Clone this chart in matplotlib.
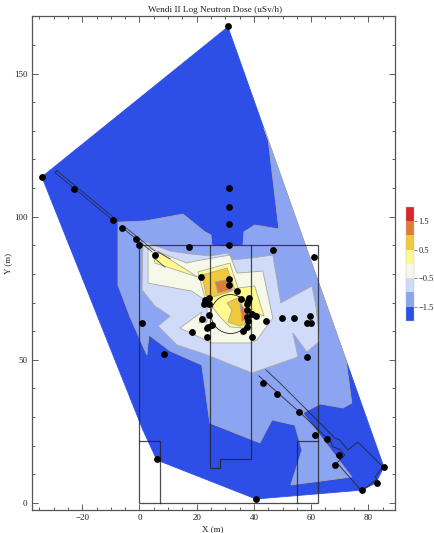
import matplotlib
matplotlib.use("Agg")
import matplotlib.pyplot as plt
from matplotlib.colors import ListedColormap, BoundaryNorm
from matplotlib.cm import ScalarMappable
from matplotlib.patches import Circle
from matplotlib.ticker import MultipleLocator

plt.rcParams['font.family'] = ['Liberation Serif', 'DejaVu Serif']

title = "Wendi II Log Neutron Dose (uSv/h)"
levels = [-2, -1.5, -1, -0.5, 0, 0.5, 1, 1.5, 2]
level_colors = ["#2D4FE8", "#8CA5F2", "#D0DBFA", "#F7F9E8", "#FFF98F", "#F0C93C", "#E07D35", "#D8262B"]
cbar_ticks = [-1.5, -0.5, 0.5, 1.5]
cbar_labels = ["\u22121.5", "\u22120.5", "0.5", "1.5"]

band0 = [(30.9,166.3),(-34.1,113.9),(1.2,25.5),(6.1,15.0),(40.7,1.4),(77.7,4.5),(82.6,7.0),(85.4,12.6)]
band1 = [(-7.5,98.1),(1.9,98.5),(15.2,100.9),(22.9,94.7),(25.0,93.6),(25.3,90.1),(31.3,89.4),(36.2,90.1),
         (36.5,94.7),(40.3,97.1),(48.7,95.7),(45.0,126.8),(43.5,131.0),(72.2,49.9),(74.2,34.9),(71.1,33.2),
         (63.1,34.6),(57.1,31.4),(74.2,9.1),(52.9,6.3),(56.8,18.5),(54.3,27.2),(46.3,29.0),(42.1,21.0),
         (24.6,27.9),(21.8,48.2),(10.7,53.1),(3.3,58.7),(2.6,51.7),(-3.3,65.0),(-7.5,76.1)]
band2 = [(1.2,91.5),(10.7,88.0),(17.6,87.0),(24.6,86.3),(30.9,87.3),(32.3,84.9),(39.3,85.6),(46.6,86.6),
         (49.4,69.9),(60.3,75.8),(61.7,68.5),(63.1,56.6),(58.5,52.7),(53.6,59.4),(55.4,51.0),(44.5,47.2),
         (39.3,45.4),(23.6,51.7),(13.1,55.2),(6.5,61.8),(10.7,65.3),(5.4,68.8),(0.9,74.4)]
band3 = [(3.0,89.1),(16.6,83.8),(19.4,84.5),(31.6,86.6),(32.7,83.8),(34.1,80.3),(43.1,81.0),(46.6,64.6),
         (41.0,56.9),(39.0,55.9),(25.3,55.9),(14.1,61.1),(21.8,66.7),(20.8,62.9),(23.6,63.2),(23.6,68.1),
         (25.3,69.9),(22.9,70.9),(18.3,74.0),(3.0,76.8)]
band4a = [(4.7,87.3),(5.4,83.8),(20.4,78.9),(7.2,87.3)]
band4b = [(20.4,80.7),(31.6,83.8),(34.4,75.1),(40.3,75.8),(43.5,65.3),(37.9,67.4),(36.9,61.1),(31.6,61.5),
          (28.1,65.0),(25.3,68.8),(22.9,71.6)]
band5a = [(21.8,79.6),(30.6,82.1),(33.4,74.4),(23.6,71.3)]
band5b = [(30.6,69.9),(35.1,72.0),(37.6,62.9),(35.1,61.8),(30.9,63.2),(32.3,67.4)]
band6a = [(26.4,77.2),(31.3,78.2),(32.0,74.4),(27.4,73.3)]
band6b = [(35.1,69.9),(36.9,67.4),(37.9,63.9),(35.8,63.6)]
bands = [(0, band0), (1, band1), (2, band2), (3, band3), (4, band4a), (4, band4b),
         (5, band5a), (5, band5b), (6, band6a), (6, band6b)]

points_x = [30.9,-34.1,-22.9,-9.3,-6.1,-1.2,-0.2,5.4,17.3,31.3,31.3,31.3,31.3,46.6,61.0,0.9,8.6,6.1,40.7,21.5,
            31.3,31.3,34.1,35.5,24.3,22.9,22.5,24.3,24.3,21.8,18.3,23.6,23.9,25.3,23.6,38.3,37.9,37.6,37.6,39.3,
            40.7,37.6,37.9,44.2,49.8,54.0,59.6,58.5,59.9,37.6,36.2,39.3,58.5,43.1,48.0,55.7,61.3,65.5,69.7,68.3,
            77.7,83.0,85.4]
points_y = [166.6,113.9,109.7,98.8,96.1,92.2,90.1,86.6,89.4,110.0,103.4,97.4,90.1,88.4,85.9,62.9,52.0,15.4,1.4,78.9,
            78.2,76.1,74.0,71.3,71.6,70.9,69.5,69.5,65.7,64.3,59.7,58.0,61.5,62.2,61.1,71.6,70.6,69.5,67.4,66.0,
            65.3,65.0,63.6,63.6,64.6,64.6,65.3,62.9,62.9,61.5,60.1,58.0,51.0,41.9,38.1,31.8,23.8,22.4,16.8,13.3,
            4.5,7.0,12.6]

building_outer = [(0,90),(62.5,90),(62.5,0),(0,0),(0,90)]
building_inner = [(24.5,90),(24.5,12.2),(28,12.2),(28,15.2),(39,15.2),(39,90)]
room_left = [(0,21.5),(7,21.5),(7,0)]
room_right = [(62.5,21.5),(55.2,21.5),(55.2,0)]
tunnel_nw = [[(-29.5,115.4),(-8.6,98.2)], [(-28.9,116.1),(-7.9,98.8)], [(-29.5,115.4),(-28.9,116.1)],
             [(-5.8,96.0),(4.4,87.7)], [(-5.1,96.4),(5.4,88.0)],
             [(6.5,87.7),(10.7,85.3)], [(4.7,85.9),(8.9,82.4)]]
tunnel_se = [(44.2,46.5),(49.1,41.9),(68.3,22.7),(70.0,22.0),(72.8,18.5),(76.3,21.3),(85.1,12.6),(82.3,9.1),
             (83.0,8.4),(77.7,4.2),(69.0,14.0),(71.8,16.8),(69.7,18.9),(67.6,19.6),(66.9,21.3),(57.1,30.7),(41.7,44.4)]
circle_center = (31.8, 66.0)
circle_radius = 6.8

W, H = 435, 533
fig = plt.figure(figsize=(W/100, H/100), dpi=100)
ax = fig.add_axes([31.7/W, 1-510.3/H, (395.3-31.7)/W, (510.3-15.7)/H])
ax.set_xlim(-37.66, 89.4)
ax.set_ylim(-2.55, 170.2)

for idx, poly in bands:
    xs, ys = zip(*poly)
    ax.fill(xs, ys, facecolor=level_colors[idx], edgecolor=level_colors[idx] if idx == 0 else "#a8a8a8",
            linewidth=0.6, zorder=1+idx*0.1)

def line(poly, lw=0.9, color="#222222", alpha=0.8):
    xs, ys = zip(*poly)
    ax.plot(xs, ys, color=color, lw=lw, alpha=alpha, zorder=3, solid_joinstyle="miter")

line(building_outer); line(building_inner); line(room_left); line(room_right)
for seg in tunnel_nw:
    line(seg, lw=0.6)
line(tunnel_se, lw=0.7)
ax.add_patch(Circle(circle_center, circle_radius, fill=False, edgecolor="#222222", lw=0.6, zorder=3))
ax.scatter(points_x, points_y, s=24, color="black", linewidths=0, zorder=4)

ax.xaxis.set_major_locator(MultipleLocator(20))
ax.xaxis.set_minor_locator(MultipleLocator(5))
ax.yaxis.set_major_locator(MultipleLocator(50))
ax.yaxis.set_minor_locator(MultipleLocator(10))
ax.tick_params(which="major", direction="in", length=4, width=0.6, color="#444444", labelsize=6.5,
               top=True, right=True, labelcolor="#222222", pad=3)
ax.tick_params(which="minor", direction="in", length=2, width=0.6, color="#444444", top=True, right=True)
ax.set_xticks([-20, 0, 20, 40, 60, 80])
ax.set_xticklabels(["\u221220", "0", "20", "40", "60", "80"])
for s in ax.spines.values():
    s.set_linewidth(0.9); s.set_color("#555555")

fig.text(215/W, 1-9.5/H, title, ha="center", va="center", fontsize=6.7, color="#222222")
fig.text(213/W, 1-529/H, "X (m)", ha="center", va="center", fontsize=6.5, color="#222222")
fig.text(8/W, 1-263/H, "Y (m)", ha="center", va="center", rotation=90, fontsize=6.5, color="#222222")

cax = fig.add_axes([405.7/W, 1-321/H, 8.6/W, (321-206.7)/H])
sm = ScalarMappable(norm=BoundaryNorm(levels, len(level_colors)), cmap=ListedColormap(level_colors))
cb = fig.colorbar(sm, cax=cax, spacing="proportional", ticks=cbar_ticks, drawedges=False)
cb.ax.set_yticklabels(cbar_labels)
cb.ax.minorticks_off()
cb.ax.tick_params(length=2, width=0.5, labelsize=6, pad=1.2, color="#555555", labelcolor="#222222")
cb.outline.set_linewidth(0.3)
cb.outline.set_edgecolor("#bbbbbb")

fig.savefig("out.png", dpi=100)
